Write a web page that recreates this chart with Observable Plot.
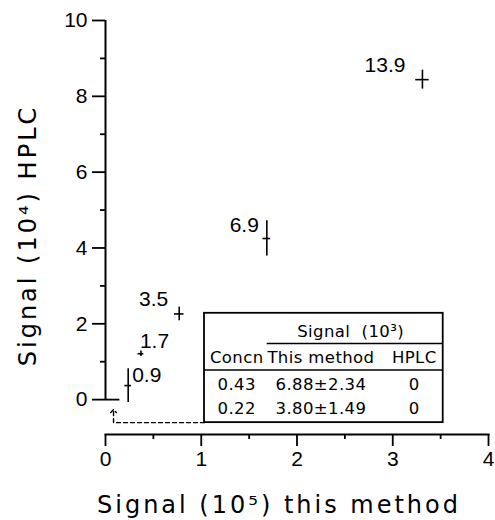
<!DOCTYPE html>
<html>
<head>
<meta charset="utf-8">
<script src="https://cdn.jsdelivr.net/npm/d3@7"></script>
<script src="https://cdn.jsdelivr.net/npm/@observablehq/plot@0.6"></script>
<style>
  html, body { margin: 0; padding: 0; background: #fff; }
  #chart { width: 495px; height: 520px; }
  .ttl { letter-spacing: 3px; }
  .tbl { letter-spacing: 0.4px; }
</style>
</head>
<body>
<div id="chart"></div>
<script>
// ---- data ----
const pointLabels = ["13.9", "6.9", "3.5", "1.7", "0.9"];
const xSignal = [3.31, 1.685, 0.77, 0.37, 0.237];   // Signal (10^5) this method
const ySignal = [8.44, 4.25, 2.26, 1.21, 0.37];     // Signal (10^4) HPLC
const xError = [0.07, 0.04, 0.05, 0.03, 0.035];
const yError = [0.25, 0.465, 0.18, 0.07, 0.445];

const xTicks = [0, 1, 2, 3, 4];
const xMinorTicks = [0.5, 1.5, 2.5, 3.5];
const yTicks = [0, 2, 4, 6, 8, 10];
const yMinorTicks = [1, 3, 5, 7, 9];

const xTitle = "Signal (10\u2075) this method";
const yTitle = "Signal (10\u2074) HPLC";

// inset table
const tableGroupTitle = "Signal  (10\u00B3)";
const tableHeader = ["Concn", "This method", "HPLC"];
const tableConcn = ["0.43", "0.22"];
const tableThisMethod = ["6.88\u00B12.34", "3.80\u00B11.49"];
const tableHPLC = ["0", "0"];

// ---- layout (styling / placement, not data) ----
const yBottom = -0.92;                 // where the detached x axis sits
const zeroStubEnd = 0.15;              // short stub at y = 0
const labelNudge = [                   // [dx, dy, anchor] per point label
  [-17, -14, "end"], [-8, -13, "end"], [-11, -15, "end"], [-1, -12, "start"], [4, -10, "start"]
];
const tbl = {x1: 1.034, x2: 3.527, y1: -0.607, y2: 2.277,
             groupRuleX1: 1.689, groupRuleY: 1.478, headRuleY: 0.784,
             colX: [1.37, 2.25, 3.225], groupX: 2.56, groupY: 1.78,
             rowY: [1.10, 0.39, -0.245]};
const arrowTip = {x: 0.084, y: -0.3};

// ---- build tables for marks ----
const points = pointLabels.map((label, i) => ({
  label, x: xSignal[i], y: ySignal[i], ex: xError[i], ey: yError[i]
}));
const tableCells = [];
tableHeader.forEach((t, j) => tableCells.push({text: t, x: tbl.colX[j], y: tbl.rowY[0]}));
tableConcn.forEach((_, r) => {
  [tableConcn[r], tableThisMethod[r], tableHPLC[r]].forEach((t, j) =>
    tableCells.push({text: t, x: tbl.colX[j], y: tbl.rowY[r + 1]}));
});
const connector = [
  {x: tbl.x1, y: tbl.y1}, {x: arrowTip.x, y: tbl.y1}, {x: arrowTip.x, y: arrowTip.y}
];

const numFont = "Liberation Sans, Arial, sans-serif";
const textFont = "DejaVu Sans, sans-serif";

const labelMarks = points.map((p, i) => Plot.text([p], {
  x: "x", y: "y", text: "label",
  dx: labelNudge[i][0], dy: labelNudge[i][1], textAnchor: labelNudge[i][2],
  fontSize: 21, fontFamily: numFont, fill: "black"
}));

const chart = Plot.plot({
  width: 495,
  height: 520,
  marginLeft: 105,
  marginRight: 7,
  marginTop: 20,
  marginBottom: 86,
  style: {background: "white", color: "black", fontFamily: numFont},
  x: {domain: [0, 4]},
  y: {domain: [yBottom, 10]},
  marks: [
    // y axis
    Plot.axisY({ticks: yTicks, tickFormat: "d", tickSize: 13, tickPadding: 5, fontSize: 21, fontFamily: numFont, label: null, strokeWidth: 1.8}),
    Plot.axisY({ticks: yMinorTicks, tickSize: 5, text: null, label: null, strokeWidth: 1.8}),
    Plot.ruleX([0], {y1: 0, y2: 10, strokeWidth: 2}),
    Plot.ruleY([0], {x1: 0, x2: zeroStubEnd, strokeWidth: 1.8}),
    // x axis
    Plot.axisX({ticks: xTicks, tickFormat: "d", tickSize: 12, tickPadding: 5, fontSize: 21, fontFamily: numFont, label: null, strokeWidth: 1.8}),
    Plot.axisX({ticks: xMinorTicks, tickSize: 5, text: null, label: null, strokeWidth: 1.8}),
    Plot.frame({anchor: "bottom", strokeWidth: 2}),
    // titles
    Plot.text([xTitle], {frameAnchor: "bottom", textAnchor: "middle", lineAnchor: "middle", dx: -18, dy: 71, fontSize: 24, fontFamily: textFont, className: "ttl"}),
    Plot.text([yTitle], {frameAnchor: "left", textAnchor: "middle", lineAnchor: "middle", rotate: -90, dx: -77, dy: 8, fontSize: 24, fontFamily: textFont, className: "ttl"}),
    // error crosses
    Plot.ruleX(points, {x: "x", y1: d => d.y - d.ey, y2: d => d.y + d.ey, strokeWidth: 1.6}),
    Plot.ruleY(points, {y: "y", x1: d => d.x - d.ex, x2: d => d.x + d.ex, strokeWidth: 1.6}),
    ...labelMarks,
    // dashed connector to table
    Plot.line(connector, {x: "x", y: "y", strokeDasharray: "4,3", strokeWidth: 1.4, markerEnd: "arrow"}),
    // inset table
    Plot.rect([tbl], {x1: "x1", x2: "x2", y1: "y1", y2: "y2", fill: "white", stroke: "black", strokeWidth: 1.8}),
    Plot.ruleY([tbl], {y: "groupRuleY", x1: "groupRuleX1", x2: "x2", strokeWidth: 1.5}),
    Plot.ruleY([tbl], {y: "headRuleY", x1: "x1", x2: "x2", strokeWidth: 1.5}),
    Plot.text([tableGroupTitle], {x: tbl.groupX, y: tbl.groupY, fontSize: 16.5, fontFamily: textFont, className: "tbl"}),
    Plot.text(tableCells, {x: "x", y: "y", text: "text", fontSize: 16.5, fontFamily: textFont, className: "tbl"})
  ]
});
document.getElementById("chart").appendChild(chart);
</script>
</body>
</html>
